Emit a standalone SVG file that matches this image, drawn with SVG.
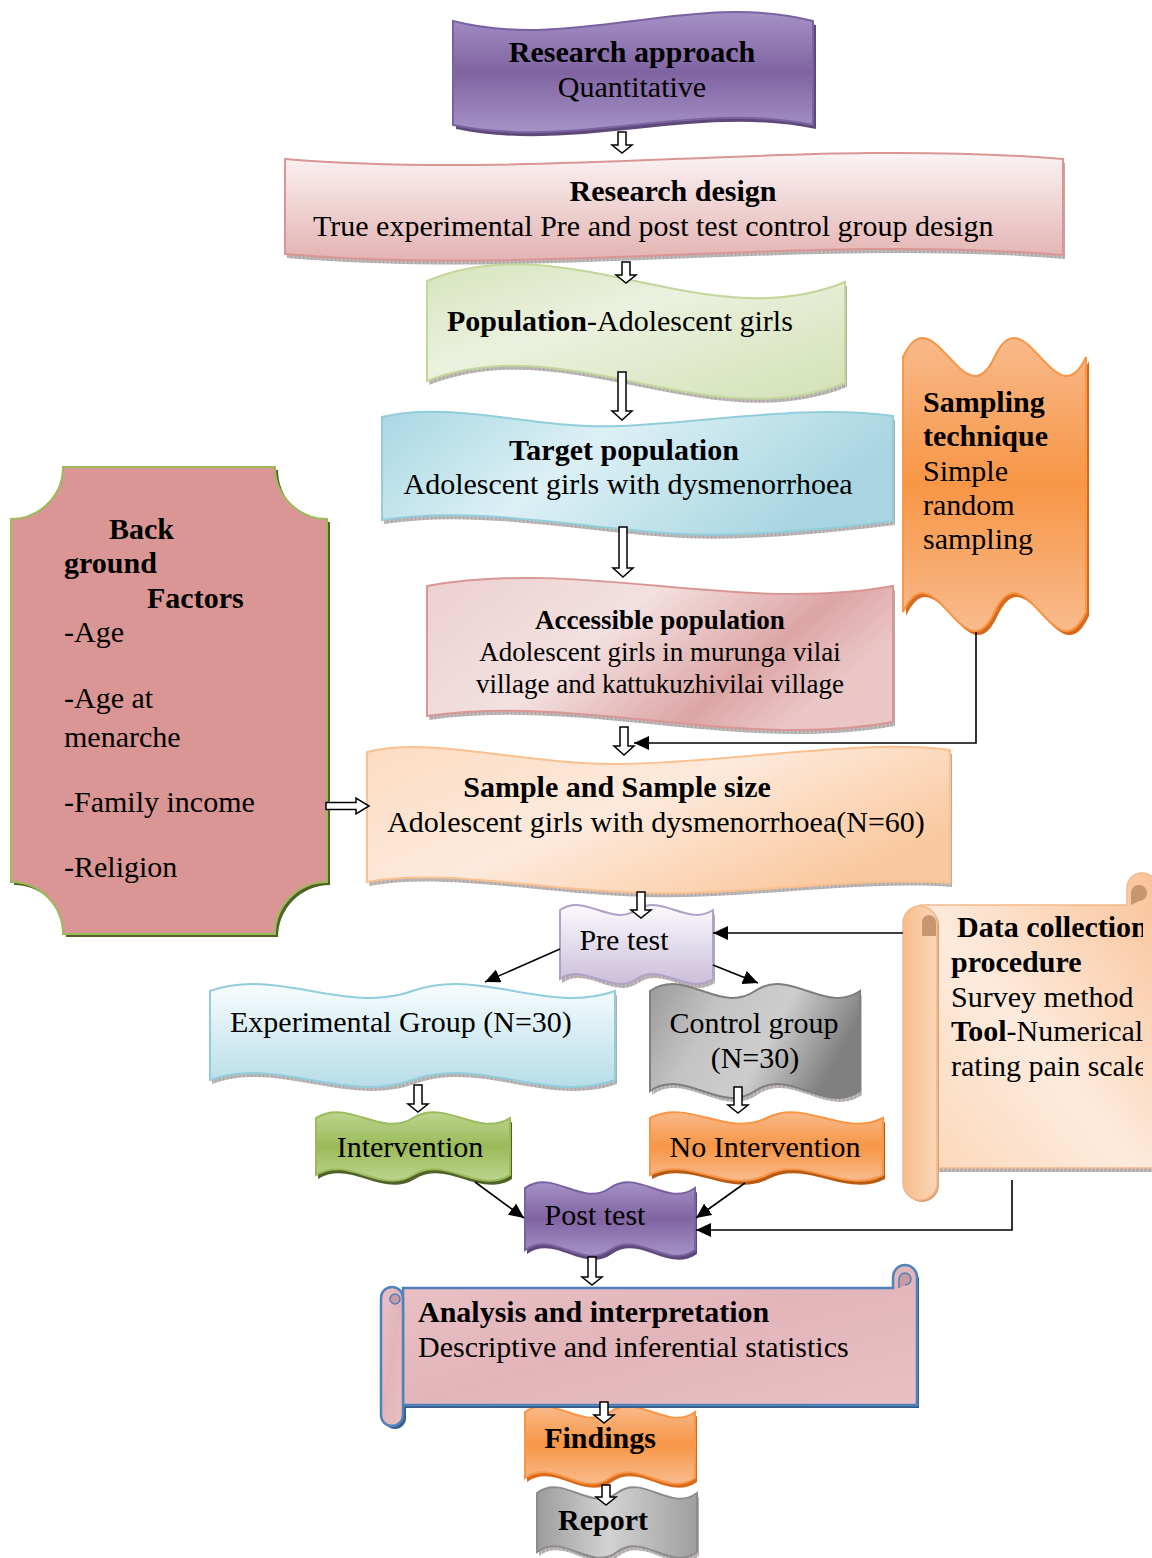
<svg xmlns="http://www.w3.org/2000/svg" xmlns:xlink="http://www.w3.org/1999/xlink" width="1152" height="1558" viewBox="0 0 1152 1558">
<style>
.t{font-family:"Liberation Serif","Times New Roman",serif;font-size:30px;fill:#000}
.s{font-size:27px}
.b{font-weight:bold}
.m{text-anchor:middle}
.ba{fill:#fff;stroke:#000;stroke-width:1.5;stroke-linejoin:miter}
.ln{fill:none;stroke:#000;stroke-width:1.6}
</style>
<defs>
<pattern id="hatch" width="4" height="4" patternUnits="userSpaceOnUse"><rect width="4" height="4" fill="#cbc5c5"/><path d="M0,0V4M2,0V4" stroke="#8d8787" stroke-width="0.8"/></pattern>
<linearGradient id="gPurple" x1="0" y1="0" x2="0" y2="1"><stop offset="0" stop-color="#a591c6"/><stop offset="0.5" stop-color="#8064a2"/><stop offset="1" stop-color="#a693c7"/></linearGradient>
<linearGradient id="gPink" x1="0" y1="0" x2="0" y2="1"><stop offset="0" stop-color="#fbf3f3"/><stop offset="1" stop-color="#e3b3b2"/></linearGradient>
<linearGradient id="gGreenL" x1="0" y1="0" x2="1" y2="1"><stop offset="0" stop-color="#d7e4bd"/><stop offset="0.4" stop-color="#ebf1de"/><stop offset="1" stop-color="#d3e1b6"/></linearGradient>
<linearGradient id="gBlue" x1="0" y1="0" x2="1" y2="0.3"><stop offset="0" stop-color="#a9d7e3"/><stop offset="0.45" stop-color="#dcf0f5"/><stop offset="1" stop-color="#a8d5e1"/></linearGradient>
<linearGradient id="gPinkAP" x1="0" y1="0" x2="1" y2="0.4"><stop offset="0" stop-color="#ecd0d0"/><stop offset="0.45" stop-color="#f3e0e0"/><stop offset="0.8" stop-color="#dda5a5"/><stop offset="1" stop-color="#eac6c6"/></linearGradient>
<linearGradient id="gPeach" x1="0" y1="0" x2="1" y2="0.6"><stop offset="0" stop-color="#fcdcc2"/><stop offset="0.5" stop-color="#fdeadc"/><stop offset="1" stop-color="#fac89e"/></linearGradient>
<linearGradient id="gOrangeV" x1="0" y1="0" x2="0" y2="1"><stop offset="0" stop-color="#f9b98a"/><stop offset="0.5" stop-color="#f79646"/><stop offset="1" stop-color="#f9bb8d"/></linearGradient>
<linearGradient id="gLav" x1="0" y1="0" x2="0" y2="1"><stop offset="0" stop-color="#fbf9fd"/><stop offset="1" stop-color="#cbbfda"/></linearGradient>
<linearGradient id="gCyan" x1="0" y1="0" x2="0" y2="1"><stop offset="0" stop-color="#f7fcfd"/><stop offset="1" stop-color="#b7dde8"/></linearGradient>
<linearGradient id="gGray" x1="0" y1="0" x2="1" y2="0.3"><stop offset="0" stop-color="#9a9a9a"/><stop offset="0.35" stop-color="#c4c4c4"/><stop offset="0.65" stop-color="#cdcdcd"/><stop offset="1" stop-color="#808080"/></linearGradient>
<linearGradient id="gGreen" x1="0" y1="0" x2="0" y2="1"><stop offset="0" stop-color="#bcd48f"/><stop offset="0.5" stop-color="#9bbb59"/><stop offset="1" stop-color="#bcd48f"/></linearGradient>
<linearGradient id="gGray2" x1="0" y1="0" x2="1" y2="0"><stop offset="0" stop-color="#9d9d9d"/><stop offset="0.45" stop-color="#d2d2d2"/><stop offset="1" stop-color="#9f9f9f"/></linearGradient>
<linearGradient id="gScroll" x1="0" y1="1" x2="1" y2="0"><stop offset="0" stop-color="#fbd7b9"/><stop offset="0.45" stop-color="#fdebdd"/><stop offset="1" stop-color="#f9c297"/></linearGradient>
<linearGradient id="gRoll" x1="0" y1="0" x2="1" y2="0"><stop offset="0" stop-color="#f7bd8d"/><stop offset="1" stop-color="#fbd6b8"/></linearGradient>
<linearGradient id="gAna" x1="0" y1="0" x2="1" y2="1"><stop offset="0" stop-color="#e9c2c6"/><stop offset="0.5" stop-color="#e2b5ba"/><stop offset="1" stop-color="#e8c0c4"/></linearGradient>
<clipPath id="dcclip"><rect x="900" y="870" width="243" height="330"/></clipPath>
<marker id="ah" markerUnits="userSpaceOnUse" markerWidth="16" markerHeight="14" refX="15" refY="7" orient="auto"><path d="M0,0 L15,7 L0,14 Z" fill="#000"/></marker>
<path id="pRA" d="M453,21 C573,52 693,-10 813,21 L813,125 C693,100 573,150 453,125 Z"/>
<path id="pRD" d="M285,159 C544,180 804,138 1063,159 L1063,255 C804,234 544,276 285,254 Z"/>
<path id="pPop" d="M427,281 C566,223 706,339 845,282 L845,383 C706,438 566,327 427,381 Z"/>
<path id="pTP" d="M382,417 C450,400 540,430 620,426 C710,422 810,404 893,416 L893,521 C810,531 730,538 665,533 C570,526 470,506 382,520 Z"/>
<path id="pAP" d="M427,586 C582,558 738,614 893,586 L893,722 C738,750 582,694 427,716 Z"/>
<path id="pSS" d="M367,752 C430,736 520,764 614,764 C720,764 860,738 950,750 L950,883 C860,876 740,896 642,893 C540,890 440,868 367,882 Z"/>
<path id="pST" d="M903,357 C933.5,291 964,423 994.5,357 C1025,291 1055.5,423 1086,357 L1086,612 C1055.5,678 1025,546 994.5,612 C964,678 933.5,546 903,612 Z"/>
<path id="pPT" d="M560,910 C585.5,893 611,927 636.5,910 C662,893 687.5,927 713,910 L713,979 C687.5,996 662,962 636.5,979 C611,996 585.5,962 560,979 Z"/>
<path id="pEG" d="M210,991 C277.5,967 345,1015 412.5,991 C480,967 547.5,1015 615,991 L615,1080 C547.5,1104 480,1056 412.5,1080 C345,1104 277.5,1056 210,1080 Z"/>
<path id="pCG" d="M650,991 C685,967 720,1015 755,991 C790,967 825,1015 860,991 L860,1091 C825,1115 790,1067 755,1091 C720,1115 685,1067 650,1091 Z"/>
<path id="pIN" d="M316,1118 C348.3,1098 380.7,1138 413,1118 C445.3,1098 477.7,1138 510,1118 L510,1175 C477.7,1195 445.3,1155 413,1175 C380.7,1195 348.3,1155 316,1175 Z"/>
<path id="pNI" d="M650,1118 C688.8,1098 727.7,1138 766.5,1118 C805.3,1098 844.2,1138 883,1118 L883,1175 C844.2,1195 805.3,1155 766.5,1175 C727.7,1195 688.8,1155 650,1175 Z"/>
<path id="pPO" d="M525,1188 C553.3,1168 581.7,1208 610,1188 C638.3,1168 666.7,1208 695,1188 L695,1250 C666.7,1270 638.3,1230 610,1250 C581.7,1270 553.3,1230 525,1250 Z"/>
<path id="pFI" d="M525,1412 C553.3,1392 581.7,1432 610,1412 C638.3,1392 666.7,1432 695,1412 L695,1478 C666.7,1498 638.3,1458 610,1478 C581.7,1498 553.3,1458 525,1478 Z"/>
<path id="pRE" d="M537,1493 C563.7,1473 590.3,1513 617,1493 C643.7,1473 670.3,1513 697,1493 L697,1552 C670.3,1572 643.7,1532 617,1552 C590.3,1572 563.7,1532 537,1552 Z"/>
<path id="pBG" d="M63,467 H275 A52,52 0 0 0 327,519 V882 A52,52 0 0 0 275,934 H63 A52,52 0 0 0 11,882 V519 A52,52 0 0 0 63,467 Z"/>
</defs>

<rect width="1152" height="1558" fill="#fff"/>

<g id="research-approach">
<use href="#pRA" transform="translate(3,4)" fill="#5f497a"/>
<use href="#pRA" fill="url(#gPurple)" stroke="#7a62a0" stroke-width="2"/>
<text class="t b m" x="632" y="62">Research approach</text>
<text class="t m" x="632" y="97">Quantitative</text>
</g>

<g id="research-design">
<use href="#pRD" transform="translate(2,4)" fill="url(#hatch)"/>
<use href="#pRD" fill="url(#gPink)" stroke="#d99694" stroke-width="2"/>
<text class="t b m" x="673" y="201">Research design</text>
<text class="t" x="313" y="236">True experimental Pre and post test control group design</text>
</g>

<g id="population">
<use href="#pPop" transform="translate(2,4)" fill="url(#hatch)"/>
<use href="#pPop" fill="url(#gGreenL)" stroke="#c3d69b" stroke-width="2"/>
<text class="t" x="447" y="331"><tspan font-weight="bold">Population</tspan>-Adolescent girls</text>
</g>

<g id="target-population">
<use href="#pTP" transform="translate(2,4)" fill="url(#hatch)"/>
<use href="#pTP" fill="url(#gBlue)" stroke="#92cddc" stroke-width="2"/>
<text class="t b m" x="624" y="460">Target population</text>
<text class="t m" x="628" y="494">Adolescent girls with dysmenorrhoea</text>
</g>

<g id="sampling-technique">
<use href="#pST" transform="translate(3,4)" fill="#d9691b"/>
<use href="#pST" fill="url(#gOrangeV)" stroke="#f79646" stroke-width="2"/>
<text class="t b" x="923" y="412">Sampling</text>
<text class="t b" x="923" y="446">technique</text>
<text class="t" x="923" y="481">Simple</text>
<text class="t" x="923" y="515">random</text>
<text class="t" x="923" y="549">sampling</text>
</g>

<g id="accessible-population">
<use href="#pAP" transform="translate(2,4)" fill="url(#hatch)"/>
<use href="#pAP" fill="url(#gPinkAP)" stroke="#d99694" stroke-width="2"/>
<text class="t s b m" x="660" y="629">Accessible population</text>
<text class="t s m" x="660" y="661">Adolescent girls in murunga vilai</text>
<text class="t s m" x="660" y="693">village and kattukuzhivilai village</text>
</g>

<g id="background-factors">
<use href="#pBG" transform="translate(3,3)" fill="#4f6228"/>
<use href="#pBG" fill="#d99694" stroke="#9bbb59" stroke-width="2"/>
<text class="t b" x="109" y="539">Back</text>
<text class="t b" x="64" y="573">ground</text>
<text class="t b" x="147" y="608">Factors</text>
<text class="t" x="64" y="642">-Age</text>
<text class="t" x="64" y="708">-Age at</text>
<text class="t" x="64" y="747">menarche</text>
<text class="t" x="64" y="812">-Family income</text>
<text class="t" x="64" y="877">-Religion</text>
</g>

<g id="sample-size">
<use href="#pSS" transform="translate(2,4)" fill="url(#hatch)"/>
<use href="#pSS" fill="url(#gPeach)" stroke="#fac090" stroke-width="2"/>
<text class="t b m" x="617" y="797">Sample and Sample size</text>
<text class="t m" x="656" y="832">Adolescent girls with dysmenorrhoea(N=60)</text>
</g>

<g id="pre-test">
<use href="#pPT" transform="translate(2,4)" fill="url(#hatch)"/>
<use href="#pPT" fill="url(#gLav)" stroke="#b2a1c7" stroke-width="2"/>
<text class="t m" x="624" y="950">Pre test</text>
</g>

<g id="data-collection">
<rect x="925" y="908" width="240" height="264" fill="url(#hatch)"/>
<path d="M920,905 H1127 V888 A15,15 0 0 1 1157,888 V1168 H920 Z" fill="url(#gScroll)" stroke="#f3b98a" stroke-width="1.5"/>
<path d="M1131,905 V893 A8,8 0 0 1 1147,893 A8,8 0 0 1 1139,901 Z" fill="#c8966e"/>
<rect x="905" y="908" width="34" height="294" rx="17" fill="#d9a277"/>
<rect x="903" y="906" width="34" height="294" rx="17" fill="url(#gRoll)" stroke="#f3b98a" stroke-width="1.5"/>
<path d="M922,936 V922 A7,7 0 0 1 936,922 V936 Z" fill="#c8966e"/>
<g clip-path="url(#dcclip)">
<text class="t b" x="957" y="937">Data collection</text>
<text class="t b" x="951" y="972">procedure</text>
<text class="t" x="951" y="1007">Survey method</text>
<text class="t" x="951" y="1041"><tspan font-weight="bold">Tool</tspan>-Numerical</text>
<text class="t" x="951" y="1076">rating pain scale</text>
</g>
</g>

<g id="experimental-group">
<use href="#pEG" transform="translate(2,4)" fill="url(#hatch)"/>
<use href="#pEG" fill="url(#gCyan)" stroke="#92cddc" stroke-width="2"/>
<text class="t" x="230" y="1032">Experimental Group (N=30)</text>
</g>

<g id="control-group">
<use href="#pCG" transform="translate(2,4)" fill="url(#hatch)"/>
<use href="#pCG" fill="url(#gGray)" stroke="#7f7f7f" stroke-width="2"/>
<text class="t m" x="754" y="1033">Control group</text>
<text class="t m" x="755" y="1068">(N=30)</text>
</g>

<g id="intervention">
<use href="#pIN" transform="translate(2,4)" fill="#4f6228"/>
<use href="#pIN" fill="url(#gGreen)" stroke="#9bbb59" stroke-width="2"/>
<text class="t m" x="410" y="1157">Intervention</text>
</g>

<g id="no-intervention">
<use href="#pNI" transform="translate(2,4)" fill="#b85a12"/>
<use href="#pNI" fill="url(#gOrangeV)" stroke="#f79646" stroke-width="2"/>
<text class="t m" x="765" y="1157">No Intervention</text>
</g>

<g id="post-test">
<use href="#pPO" transform="translate(2,4)" fill="#5f497a"/>
<use href="#pPO" fill="url(#gPurple)" stroke="#7a62a0" stroke-width="2"/>
<text class="t m" x="595" y="1225">Post test</text>
</g>

<g id="report">
<use href="#pRE" transform="translate(2,4)" fill="url(#hatch)"/>
<use href="#pRE" fill="url(#gGray2)" stroke="#8c8c8c" stroke-width="2"/>
<text class="t b m" x="603" y="1530">Report</text>
</g>

<g id="findings">
<use href="#pFI" transform="translate(2,4)" fill="#d9691b"/>
<use href="#pFI" fill="url(#gOrangeV)" stroke="#f79646" stroke-width="2"/>
<text class="t b m" x="600" y="1448">Findings</text>
</g>

<g id="analysis">
<path d="M405,1291 H895 V1280 A12,12 0 0 1 919,1280 V1408 H405 Z" fill="#385d8a"/>
<path d="M384,1301 A11,11 0 0 1 406,1301 V1418 A11,11 0 0 1 384,1418 Z" fill="#385d8a"/>
<path d="M403,1288 H893 V1277 A12,12 0 0 1 917,1277 V1405 H403 Z" fill="url(#gAna)" stroke="#4f81bd" stroke-width="2.5"/>
<path d="M899,1288 V1279 A6,6 0 0 1 911,1279 A6,6 0 0 1 905,1285" fill="#c99aa3" stroke="#4f81bd" stroke-width="1.5"/>
<path d="M381,1298 A11,11 0 0 1 403,1298 V1415 A11,11 0 0 1 381,1415 Z" fill="url(#gAna)" stroke="#4f81bd" stroke-width="2.5"/>
<circle cx="395" cy="1299" r="5" fill="#c99aa3" stroke="#4f81bd" stroke-width="1.5"/>
<text class="t b" x="418" y="1322">Analysis and interpretation</text>
<text class="t" x="418" y="1357">Descriptive and inferential statistics</text>
</g>

<g id="connectors">
<path class="ba" d="M618,132 H626 V145 H632 L622,153 L612,145 H618 Z"/>
<path class="ba" d="M622,262 H630 V275 H636 L626,283 L616,275 H622 Z"/>
<path class="ba" d="M618,372 H626 V411 H632 L622,420 L612,411 H618 Z"/>
<path class="ba" d="M619,527 H627 V568 H633 L623,577 L613,568 H619 Z"/>
<path class="ba" d="M620,727 H628 V746 H634 L624,755 L614,746 H620 Z"/>
<path class="ba" d="M637,892 H645 V910 H651 L641,918 L631,910 H637 Z"/>
<path class="ba" d="M326,802.5 H356 V798 L369,806 L356,814 V809.5 H326 Z"/>
<path class="ba" d="M414,1085 H422 V1104 H428 L418,1112 L408,1104 H414 Z"/>
<path class="ba" d="M734,1087 H742 V1105 H748 L738,1113 L728,1105 H734 Z"/>
<path class="ba" d="M588,1257 H596 V1277 H602 L592,1285 L582,1277 H588 Z"/>
<path class="ba" d="M600,1402 H608 V1415 H614 L604,1423 L594,1415 H600 Z"/>
<path class="ba" d="M602,1485 H610 V1497 H616 L606,1505 L596,1497 H602 Z"/>
<polyline class="ln" points="976,632 976,743 634,743" marker-end="url(#ah)"/>
<line class="ln" x1="903" y1="933" x2="713" y2="933" marker-end="url(#ah)"/>
<line class="ln" x1="560" y1="949" x2="485" y2="982" marker-end="url(#ah)"/>
<line class="ln" x1="713" y1="965" x2="758" y2="983" marker-end="url(#ah)"/>
<line class="ln" x1="475" y1="1182" x2="524" y2="1218" marker-end="url(#ah)"/>
<line class="ln" x1="745" y1="1183" x2="696" y2="1218" marker-end="url(#ah)"/>
<polyline class="ln" points="1012,1180 1012,1230 696,1230" marker-end="url(#ah)"/>
</g>
</svg>
